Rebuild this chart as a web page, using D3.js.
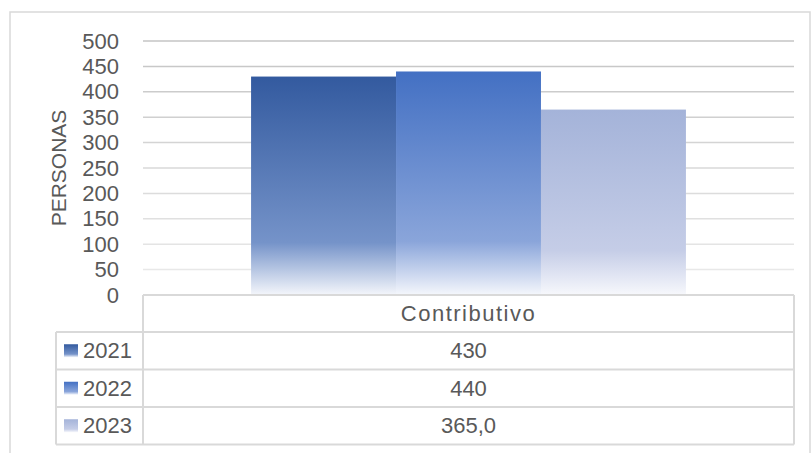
<!DOCTYPE html>
<html>
<head>
<meta charset="utf-8">
<script src="https://cdn.jsdelivr.net/npm/d3@7"></script>
<style>
  body { margin: 0; background: #fff; }
  text { font-family: "Century Gothic", "Liberation Sans", Arial, sans-serif; fill: #595959; }
</style>
</head>
<body>
<div id="chart"></div>
<script>
// data
var categories = ["Contributivo"];
var years = ["2021", "2022", "2023"];
var values = [430, 440, 365];
var valueLabels = ["430", "440", "365,0"];
var yTicks = [0, 50, 100, 150, 200, 250, 300, 350, 400, 450, 500];

var svgWidth = 811;
var svgHeight = 453;

var plot = { left: 143, right: 794, top: 41, bottom: 295 };
var table = { left: 56, headerH: 37, rowH: 37.5 };

var colors = {
  "2021": ["#335a9f", "#7593c9", "#f4f6fb"],
  "2022": ["#4370c3", "#8aa5da", "#f5f7fc"],
  "2023": ["#a4b3d9", "#c5cde7", "#f7f8fc"]
};

var svg = d3.select("#chart")
  .append("svg")
  .attr("width", svgWidth)
  .attr("height", svgHeight);

var defs = svg.append("defs");
years.forEach(function(yr, i) {
  var g = defs.append("linearGradient")
    .attr("id", "grad" + i)
    .attr("x1", 0).attr("y1", 0).attr("x2", 0).attr("y2", 1);
  g.append("stop").attr("offset", "0%").attr("stop-color", colors[yr][0]);
  g.append("stop").attr("offset", "76%").attr("stop-color", colors[yr][1]);
  g.append("stop").attr("offset", "100%").attr("stop-color", colors[yr][2]);
});

// outer chart border
svg.append("rect")
  .attr("x", 10).attr("y", 12)
  .attr("width", 800).attr("height", 460)
  .attr("fill", "none")
  .attr("stroke", "#d9d9d9")
  .attr("stroke-width", 1.5);

var y = d3.scaleLinear().domain([0, 500]).range([plot.bottom, plot.top]);
var x0 = d3.scaleBand().domain(categories).range([plot.left, plot.right]);
var gap = x0.bandwidth() * 0.166;
var x1 = d3.scaleBand().domain(years).range([gap, x0.bandwidth() - gap]);

var gridColor = d3.scaleLinear().domain([0, 500]).range(["#ececec", "#c4c4c4"]);

// gridlines
svg.append("g").selectAll("line")
  .data(yTicks.filter(function(d) { return d > 0; }))
  .enter().append("line")
  .attr("x1", plot.left).attr("x2", plot.right)
  .attr("y1", function(d) { return y(d); })
  .attr("y2", function(d) { return y(d); })
  .attr("stroke", function(d) { return gridColor(d); })
  .attr("stroke-width", 1.5);

// y axis labels
var yAxis = d3.axisLeft(y).tickValues(yTicks).tickSize(0).tickPadding(0);
var yAxisG = svg.append("g")
  .attr("transform", "translate(119,0)")
  .call(yAxis);
yAxisG.select(".domain").remove();
yAxisG.selectAll("text")
  .style("font-size", "22px")
  .attr("fill", "#595959")
  .style("font-family", "\"Century Gothic\", \"Liberation Sans\", Arial, sans-serif");

// y title
svg.append("text")
  .attr("transform", "translate(66," + ((plot.top + plot.bottom) / 2) + ") rotate(-90)")
  .attr("text-anchor", "middle")
  .style("font-size", "21px")
  .text("PERSONAS");

// bars
var barG = svg.append("g")
  .attr("transform", "translate(" + x0(categories[0]) + ",0)");
barG.selectAll("rect")
  .data(years)
  .enter().append("rect")
  .attr("x", function(d) { return x1(d); })
  .attr("width", x1.bandwidth())
  .attr("y", function(d, i) { return y(values[i]); })
  .attr("height", function(d, i) { return y(0) - y(values[i]); })
  .attr("fill", function(d, i) { return "url(#grad" + i + ")"; });

// data table
var tableG = svg.append("g");
var lineColor = "#d9d9d9";
var hTop = plot.bottom;
var hBot = hTop + table.headerH;
var tBot = hBot + table.rowH * years.length;

// horizontal lines
tableG.append("line")
  .attr("x1", plot.left).attr("x2", plot.right)
  .attr("y1", hTop).attr("y2", hTop)
  .attr("stroke", lineColor).attr("stroke-width", 2);
d3.range(years.length + 1).forEach(function(i) {
  var yy = hBot + i * table.rowH;
  tableG.append("line")
    .attr("x1", table.left).attr("x2", plot.right)
    .attr("y1", yy).attr("y2", yy)
    .attr("stroke", lineColor).attr("stroke-width", 2);
});
// vertical lines
[[table.left, hBot], [plot.left, hTop], [plot.right, hTop]].forEach(function(v) {
  tableG.append("line")
    .attr("x1", v[0]).attr("x2", v[0])
    .attr("y1", v[1]).attr("y2", tBot)
    .attr("stroke", lineColor).attr("stroke-width", 2);
});

var cx = x0(categories[0]) + x0.bandwidth() / 2;
tableG.append("text")
  .attr("x", cx).attr("y", (hTop + hBot) / 2)
  .attr("dy", "0.35em")
  .attr("text-anchor", "middle")
  .style("font-size", "22px")
  .style("letter-spacing", "1.5px")
  .text(categories[0]);

years.forEach(function(yr, i) {
  var cy = hBot + table.rowH * (i + 0.5);
  tableG.append("rect")
    .attr("x", 64).attr("y", cy - 6.5)
    .attr("width", 14).attr("height", 13)
    .attr("fill", "url(#grad" + i + ")");
  tableG.append("text")
    .attr("x", 83).attr("y", cy)
    .attr("dy", "0.35em")
    .style("font-size", "22px")
    .text(yr);
  tableG.append("text")
    .attr("x", cx).attr("y", cy)
    .attr("dy", "0.35em")
    .attr("text-anchor", "middle")
    .style("font-size", "22px")
    .text(valueLabels[i]);
});
</script>
</body>
</html>
